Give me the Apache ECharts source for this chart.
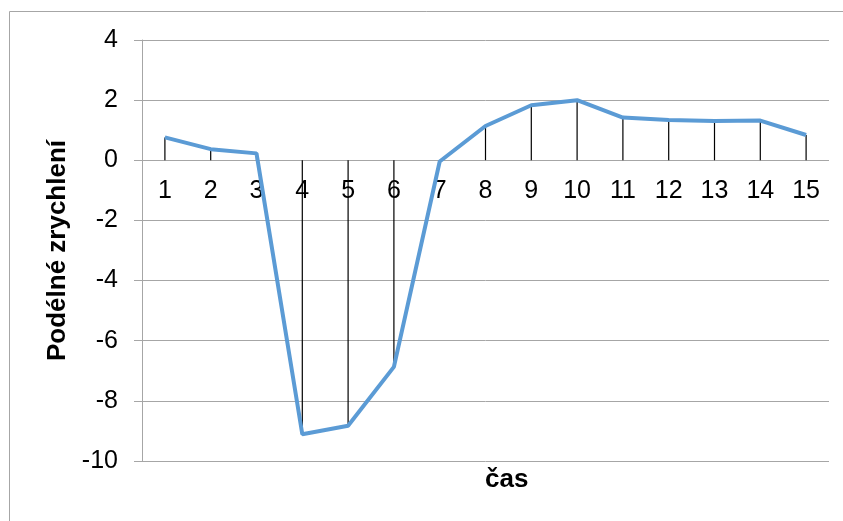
<!DOCTYPE html>
<html>
<head>
<meta charset="utf-8">
<script src="https://cdn.jsdelivr.net/npm/echarts@6/dist/echarts.min.js"></script>
<style>
html,body{margin:0;padding:0;background:#fff;}
#c{width:843px;height:521px;}
</style>
</head>
<body>
<div id="c"></div>
<script>
var categories = ['1','2','3','4','5','6','7','8','9','10','11','12','13','14','15'];
var accel = [0.76, 0.37, 0.23, -9.11, -8.83, -6.87, -0.04, 1.14, 1.83, 2.0, 1.42, 1.34, 1.31, 1.32, 0.84];
var yTicks = {min: -10, max: 4, interval: 2};
var yTitle = 'Podélné zrychlení';
var xTitle = 'čas';

var FONT = '"Liberation Sans", Arial, sans-serif';
var chart = echarts.init(document.getElementById('c'), null, {renderer: 'canvas'});
var option = {
  animation: false,
  backgroundColor: '#fff',
  textStyle: {fontFamily: FONT},
  graphic: [
    {type: 'rect', shape: {x: 9.5, y: 11.5, width: 900, height: 600}, style: {fill: 'none', stroke: '#a6a6a6', lineWidth: 1}, silent: true, z: -10},
    {type: 'text', left: 485, top: 467, style: {text: xTitle, font: 'bold 26px ' + FONT, fill: '#000', textAlign: 'center'}}
  ],
  grid: {left: 142, right: 14, top: 40, bottom: 60},
  xAxis: {
    type: 'category',
    data: categories,
    boundaryGap: true,
    axisLine: {show: false, onZero: false},
    axisTick: {show: false},
    axisLabel: {color: '#000', fontSize: 25, margin: 20, fontFamily: FONT, hideOverlap: false},
    splitLine: {show: false}
  },
  yAxis: {
    type: 'value',
    min: yTicks.min, max: yTicks.max, interval: yTicks.interval,
    name: yTitle,
    nameLocation: 'middle',
    nameGap: 66,
    nameRotate: 90,
    nameTextStyle: {color: '#000', fontSize: 26, fontWeight: 'bold', fontFamily: FONT},
    axisLine: {show: true, lineStyle: {color: '#a6a6a6', width: 1}},
    axisTick: {show: true, length: 8, lineStyle: {color: '#a6a6a6'}},
    axisLabel: {color: '#000', fontSize: 25, margin: 24, fontFamily: FONT},
    splitLine: {show: true, lineStyle: {color: '#a6a6a6', width: 1}}
  },
  series: [
    {
      type: 'bar',
      data: accel,
      barWidth: 1.2,
      itemStyle: {color: '#000'},
      z: 2,
      silent: true
    },
    {
      type: 'line',
      data: accel,
      symbol: 'none',
      lineStyle: {color: '#5b9bd5', width: 4},
      z: 5,
      silent: true
    }
  ]
};
chart.setOption(option);
// place category labels just under the zero line (as in the reference)
var yZero = chart.convertToPixel({yAxisIndex: 0}, 0);
var yBottom = chart.convertToPixel({yAxisIndex: 0}, yTicks.min);
chart.setOption({xAxis: {axisLabel: {margin: (yZero - yBottom) + 18}}});
</script>
</body>
</html>
